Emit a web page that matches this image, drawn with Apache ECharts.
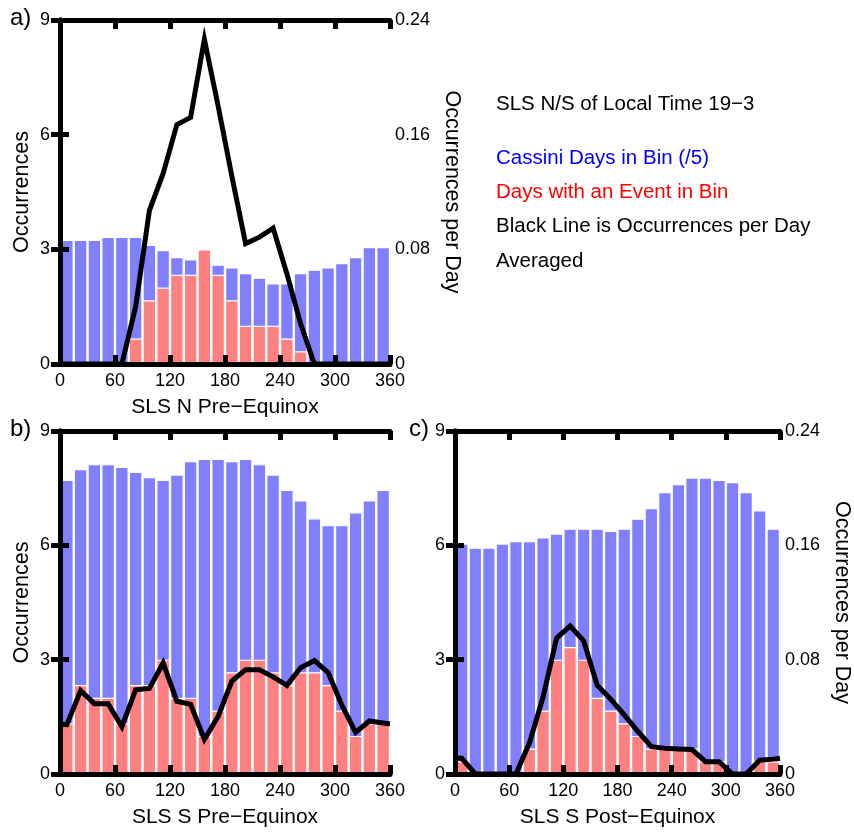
<!DOCTYPE html>
<html>
<head>
<meta charset="utf-8">
<script src="https://cdn.jsdelivr.net/npm/echarts@6/dist/echarts.min.js"></script>
<style>html,body{margin:0;padding:0;background:#fff;}#c{width:854px;height:832px;}</style>
</head>
<body>
<div id="c"></div>
<script>
// 15-degree SLS longitude bins
const categories = ['0-15','15-30','30-45','45-60','60-75','75-90','90-105','105-120','120-135','135-150','150-165','165-180',
  '180-195','195-210','210-225','225-240','240-255','255-270','270-285','285-300','300-315','315-330','330-345','345-360'];
const lineX = [0,7.5,22.5,37.5,52.5,67.5,82.5,97.5,112.5,127.5,142.5,157.5,172.5,187.5,202.5,217.5,232.5,247.5,262.5,277.5,292.5,307.5,322.5,337.5,352.5,360];

// Panel a) SLS N Pre-Equinox
const aDays   = [3.25,3.25,3.25,3.33,3.33,3.33,3.12,2.98,2.80,2.74,2.65,2.60,2.53,2.38,2.26,2.11,2.11,2.38,2.47,2.53,2.64,2.80,3.06,3.06];
const aEvents = [0,0,0,0,0,0.667,1.667,2.0,2.333,2.333,3.0,2.333,1.667,1.0,1.0,1.0,0.667,0.333,0,0,0,0,0,0];
const aRate   = [0,0,0,0,0,0,0.040,0.107,0.133,0.167,0.172,0.2265,0.180,0.131,0.084,0.0885,0.0948,0.063,0.028,0,0,0,0,0,0,0];

// Panel b) SLS S Pre-Equinox
const bDays   = [7.72,8.00,8.13,8.13,8.06,7.93,7.79,7.72,7.86,8.21,8.27,8.27,8.21,8.27,8.13,7.86,7.46,7.18,6.71,6.53,6.53,6.87,7.18,7.46];
const bEvents = [1.333,2.333,2.0,2.0,1.333,2.333,2.333,3.0,2.0,2.0,1.0,1.667,2.667,3.0,3.0,2.667,2.333,2.667,2.667,2.333,1.667,1.0,1.333,1.333];
const bRate   = [0.035,0.0345,0.0583,0.0492,0.0492,0.0331,0.0589,0.0599,0.0777,0.0509,0.0487,0.0242,0.0403,0.0650,0.0730,0.0730,0.0680,0.0620,0.0744,0.0794,0.0710,0.0482,0.0291,0.0371,0.0357,0.035];

// Panel c) SLS S Post-Equinox
const cDays   = [6.05,5.94,5.94,6.05,6.11,6.11,6.21,6.31,6.44,6.44,6.44,6.38,6.44,6.70,6.98,7.40,7.61,7.78,7.78,7.72,7.66,7.40,6.92,6.44];
const cEvents = [0.333,0,0,0,0,0.667,1.667,3.0,3.333,3.0,2.0,1.667,1.333,1.0,0.667,0.667,0.667,0.667,0.333,0.333,0,0,0.333,0.333];
const cRate   = [0.011,0.011,0,0,0,0,0.0218,0.0537,0.0951,0.1035,0.0932,0.0621,0.0523,0.0414,0.0299,0.0191,0.018,0.0175,0.0171,0.0086,0.0086,0,0,0.0096,0.0104,0.011];

const FONT = 'Liberation Sans, Arial, Helvetica, sans-serif';
const BLUE = '#8080FF', RED = '#FF8080';
const AX = () => ({show:true, lineStyle:{color:'#000', width:5}});
const TK = () => ({show:true, inside:true, length:9, lineStyle:{color:'#000', width:5}});

const grids = [
  {left:60, top:20, width:330, height:344},
  {left:60, top:431, width:330, height:343},
  {left:455, top:431, width:331, height:343}
];
const names = ['SLS N Pre\u2212Equinox','SLS S Pre\u2212Equinox','SLS S Post\u2212Equinox'];
const showRight = [true,false,true];
const showLeftName = [true,true,false];

const xAxis = [], yAxis = [], series = [];
grids.forEach((g,i)=>{
  xAxis.push({type:'category', gridIndex:i, data:categories, show:false, boundaryGap:true});
  xAxis.push({type:'value', gridIndex:i, position:'bottom', min:0, max:360, interval:60, zlevel:1,
    axisLine:AX(), axisTick:TK(), splitLine:{show:false},
    axisLabel:{fontSize:18, fontFamily:FONT, color:'#000', margin:8},
    name:names[i], nameLocation:'middle', nameGap:33,
    nameTextStyle:{fontSize:21, fontFamily:FONT, color:'#000'}});
  xAxis.push({type:'value', gridIndex:i, position:'top', min:0, max:360, interval:60, zlevel:1,
    axisLine:AX(), axisTick:TK(), axisLabel:{show:false}, splitLine:{show:false}});
  yAxis.push({type:'value', gridIndex:i, position:'left', min:0, max:9, interval:3, zlevel:1,
    axisLine:AX(), axisTick:TK(), splitLine:{show:false},
    axisLabel:{fontSize:18, fontFamily:FONT, color:'#000', margin:10},
    name: showLeftName[i] ? 'Occurrences' : '', nameLocation:'middle', nameGap:27, nameRotate:90,
    nameTextStyle:{fontSize:21.5, fontFamily:FONT, color:'#000'}});
  yAxis.push({type:'value', gridIndex:i, position:'right', min:0, max:0.24, interval:0.08, zlevel:1,
    axisLine:AX(), axisTick:TK(), splitLine:{show:false},
    axisLabel:{show:showRight[i], fontSize:18, fontFamily:FONT, color:'#000', margin:5},
    name: showRight[i] ? 'Occurrences per Day' : '', nameLocation:'middle', nameGap:51, nameRotate:-90,
    nameTextStyle:{fontSize:21.5, fontFamily:FONT, color:'#000'}});
});

const days = [aDays,bDays,cDays], events=[aEvents,bEvents,cEvents], rates=[aRate,bRate,cRate];
grids.forEach((g,i)=>{
  series.push({type:'bar', xAxisIndex:i*3, yAxisIndex:i*2, data:days[i], barCategoryGap:'0%', barGap:'-100%',
    itemStyle:{color:BLUE, borderColor:'#fff', borderWidth:1.2}, z:2, silent:true, animation:false});
  series.push({type:'bar', xAxisIndex:i*3, yAxisIndex:i*2, data:events[i], barCategoryGap:'0%', barGap:'-100%',
    itemStyle:{color:RED, borderColor:'#fff', borderWidth:1.2}, z:3, silent:true, animation:false});
  series.push({type:'line', xAxisIndex:i*3+1, yAxisIndex:i*2+1, data:lineX.map((x,k)=>[x,rates[i][k]]),
    showSymbol:false, symbol:'none', lineStyle:{color:'#000', width:5, join:'miter'}, z:4, silent:true, animation:false});
});

const txt = (x,y,s,size,color)=>({type:'text', left:x, top:y, style:{text:s, font:size+'px '+FONT, fill:color||'#000'}});
const graphic = [
  txt(10,6,'a)',24), txt(10,417,'b)',24), txt(409,417,'c)',24),
  txt(496,94,'SLS N/S of Local Time 19\u22123',20.5),
  txt(496,148,'Cassini Days in Bin (/5)',20.5,'#0000FF'),
  txt(496,182,'Days with an Event in Bin',20.5,'#FF0000'),
  txt(496,216,'Black Line is Occurrences per Day',20.5),
  txt(496,251,'Averaged',20.5)
];

const chart = echarts.init(document.getElementById('c'), null, {renderer:'canvas'});
chart.setOption({animation:false, backgroundColor:'#fff', grid:grids, xAxis, yAxis, series, graphic});
</script>
</body>
</html>
